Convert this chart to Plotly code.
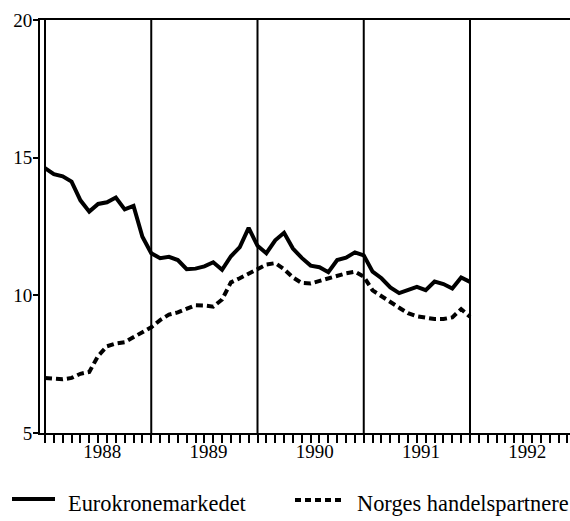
import plotly.graph_objects as go

# Monthly interest rates (per cent), January 1988 - January 1992
START_YEAR = 1988
eurokrone = [14.62, 14.40, 14.32, 14.13, 13.45, 13.04, 13.32, 13.38, 13.55, 13.12, 13.25, 12.13,
             11.53, 11.35, 11.40, 11.28, 10.95, 10.97, 11.05, 11.20, 10.93, 11.42, 11.75, 12.45,
             11.80, 11.53, 12.00, 12.27, 11.70, 11.36, 11.08, 11.02, 10.84, 11.28, 11.37, 11.56,
             11.45, 10.86, 10.62, 10.29, 10.08, 10.18, 10.31, 10.19, 10.50, 10.41, 10.25, 10.65,
             10.49]
handelspartnere = [7.00, 6.96, 6.95, 7.00, 7.15, 7.22, 7.80, 8.15, 8.25, 8.30, 8.48, 8.66,
                   8.84, 9.10, 9.30, 9.38, 9.50, 9.64, 9.63, 9.59, 9.85, 10.47, 10.62, 10.80,
                   10.95, 11.12, 11.17, 10.95, 10.65, 10.45, 10.43, 10.52, 10.63, 10.72, 10.80, 10.86,
                   10.68, 10.18, 9.96, 9.76, 9.55, 9.35, 9.24, 9.19, 9.14, 9.14, 9.20, 9.50,
                   9.22]
series_names = ["Eurokronemarkedet", "Norges handelspartnere"]
year_labels = ["1988", "1989", "1990", "1991", "1992"]
y_ticks = [5, 10, 15, 20]

years = [int(y) for y in year_labels]
x_months = [START_YEAR + i / 12 for i in range(len(eurokrone))]

SERIF = "Liberation Serif, Times New Roman, serif"
DASH = "7px,4px"

fig = go.Figure()
fig.add_trace(go.Scatter(x=x_months, y=eurokrone, mode="lines", name=series_names[0],
                         line=dict(color="black", width=4), showlegend=False))
fig.add_trace(go.Scatter(x=x_months, y=handelspartnere, mode="lines", name=series_names[1],
                         line=dict(color="black", width=4, dash=DASH), showlegend=False))

# Year separators
for yr in years:
    fig.add_shape(type="line", xref="x", yref="y", x0=yr, x1=yr, y0=y_ticks[0], y1=y_ticks[-1],
                  line=dict(color="black", width=2))

# Legend drawn below the axis
W, H, L, T, B = 570, 521, 40, 20, 88
pw, ph = W - L, H - T - B
def px(xp):
    return (xp - L) / pw
def py(yp):
    return (T + ph - yp) / ph

fig.add_shape(type="line", xref="paper", yref="paper", x0=px(12), x1=px(55), y0=py(499), y1=py(499),
              line=dict(color="black", width=4))
fig.add_shape(type="line", xref="paper", yref="paper", x0=px(295), x1=px(342), y0=py(500), y1=py(500),
              line=dict(color="black", width=4, dash="6px,4px"))
fig.add_annotation(xref="paper", yref="paper", x=px(66), y=py(503), text=series_names[0],
                   showarrow=False, xanchor="left", yanchor="middle",
                   font=dict(family=SERIF, size=22.4, color="black"))
fig.add_annotation(xref="paper", yref="paper", x=px(355), y=py(503), text=series_names[1],
                   showarrow=False, xanchor="left", yanchor="middle",
                   font=dict(family=SERIF, size=22.4, color="black"))

ppy = 106.25  # pixels per year
fig.update_layout(
    width=W, height=H,
    margin=dict(l=L, r=0, t=T, b=B, pad=0),
    plot_bgcolor="white", paper_bgcolor="white",
    xaxis=dict(
        range=[START_YEAR - 5 / ppy, START_YEAR + 525 / ppy],
        # year labels sit just right of mid-year; the monthly ticks are drawn as minor ticks
        tickvals=[y + 0.54 for y in years], ticktext=year_labels,
        ticks="", ticklabelstandoff=0,
        minor=dict(ticks="outside", dtick=1 / 12, tick0=START_YEAR, ticklen=8,
                   tickwidth=1.5, tickcolor="black", showgrid=False),
        showline=True, linewidth=2, linecolor="black", mirror=True,
        showgrid=False, zeroline=False,
        tickfont=dict(family=SERIF, size=19, color="black"),
    ),
    yaxis=dict(
        range=[y_ticks[0], y_ticks[-1]], tickvals=y_ticks,
        ticks="outside", ticklen=5, tickwidth=1.5, tickcolor="black",
        ticklabelstandoff=-3,
        showline=True, linewidth=2, linecolor="black",
        showgrid=False, zeroline=False,
        tickfont=dict(family=SERIF, size=19, color="black"),
    ),
)

fig.write_html("out.html")
